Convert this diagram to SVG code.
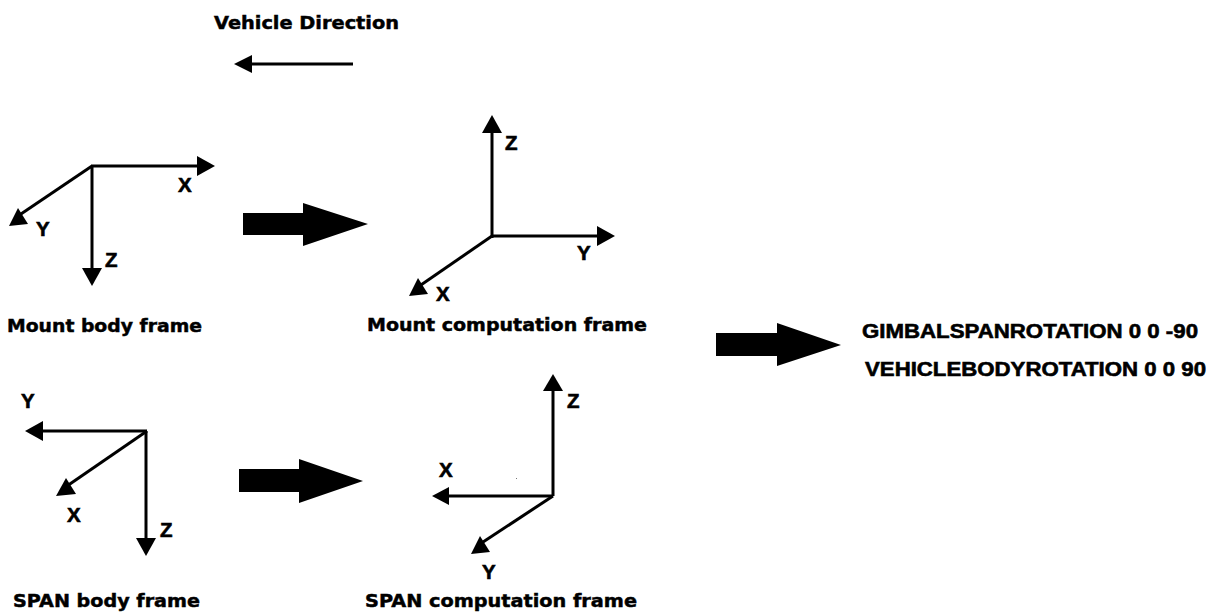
<svg xmlns="http://www.w3.org/2000/svg" width="1214" height="612" viewBox="0 0 1214 612">
<style>
text{fill:#000}
.l{font-family:"DejaVu Sans",Verdana,sans-serif;font-weight:bold;font-size:18.5px;stroke:#000;stroke-width:.5}
.a,.r{font-family:"Liberation Sans",Arial,sans-serif;font-weight:bold;stroke:#000;stroke-width:.6}
.a{font-size:20.5px}.r{font-size:20px}
.c line{stroke:#000;stroke-width:3}
.h{fill:#000}
</style>
<rect width="1214" height="612" fill="#fff"/>
<g id="direction"><text class="l" x="214" y="29" textLength="185" lengthAdjust="spacingAndGlyphs">Vehicle Direction</text></g>
<g class="c" id="connectors">
<line x1="353" y1="64" x2="245" y2="64"/><polygon class="h" points="234,64 252,55 252,73"/>
<line x1="91" y1="166" x2="204" y2="166"/><polygon class="h" points="215,166 197,156 197,176"/>
<line x1="92" y1="166" x2="18" y2="216"/><polygon class="h" points="9,226 18,208 28,224"/>
<line x1="92" y1="166" x2="92" y2="275"/><polygon class="h" points="92,286 82,268 102,268"/>
<line x1="492" y1="238" x2="492" y2="126"/><polygon class="h" points="492,115 482,133 502,133"/>
<line x1="491" y1="236" x2="604" y2="236"/><polygon class="h" points="615,236 597,226 597,246"/>
<line x1="492" y1="236" x2="418" y2="287"/><polygon class="h" points="409,296 418,278 428,294"/>
<line x1="147" y1="431" x2="35" y2="431"/><polygon class="h" points="25,431 43,421 43,441"/>
<line x1="147" y1="431" x2="67" y2="486"/><polygon class="h" points="56,496 66,478 76,494"/>
<line x1="146" y1="431" x2="146" y2="545"/><polygon class="h" points="146,556 136,538 156,538"/>
<line x1="553" y1="496" x2="553" y2="385"/><polygon class="h" points="553,374 543,391 563,391"/>
<line x1="553" y1="496" x2="442" y2="496"/><polygon class="h" points="432,496 449,487 449,505"/>
<line x1="553" y1="496" x2="480" y2="544"/><polygon class="h" points="471,554 480,536 490,552"/>
<polygon class="h" points="243,213 303,213 303,203 368,224 303,246 303,235 243,235"/>
<polygon class="h" points="239,469 299,469 299,459 363,481 299,503 299,492 239,492"/>
<polygon class="h" points="716,333 777,333 777,323 841,345 777,366 777,356 716,356"/>
</g>
<g id="mount-body"><text class="a" x="178" y="192">X</text><text class="a" x="36" y="236">Y</text><text class="a" x="105" y="267">Z</text><text class="l" x="7" y="331.5" textLength="195" lengthAdjust="spacingAndGlyphs">Mount body frame</text></g>
<g id="mount-comp"><text class="a" x="505" y="150">Z</text><text class="a" x="577" y="260">Y</text><text class="a" x="436" y="301">X</text><text class="l" x="367" y="331" textLength="280" lengthAdjust="spacingAndGlyphs">Mount computation frame</text></g>
<g id="span-body"><text class="a" x="21" y="408">Y</text><text class="a" x="67" y="522">X</text><text class="a" x="160" y="537">Z</text><text class="l" x="13" y="606.5" textLength="187" lengthAdjust="spacingAndGlyphs">SPAN body frame</text></g>
<g id="span-comp"><text class="a" x="567" y="408">Z</text><text class="a" x="439" y="477">X</text><text class="a" x="482" y="579">Y</text><text class="l" x="365" y="606.5" textLength="272" lengthAdjust="spacingAndGlyphs">SPAN computation frame</text></g>
<g id="rotation"><text class="r" x="862" y="337.5" textLength="336" lengthAdjust="spacingAndGlyphs">GIMBALSPANROTATION 0 0 -90</text><text class="r" x="865" y="375.5" textLength="341" lengthAdjust="spacingAndGlyphs">VEHICLEBODYROTATION 0 0 90</text></g>
<rect x="516" y="478" width="1" height="1" fill="#777"/>
</svg>
